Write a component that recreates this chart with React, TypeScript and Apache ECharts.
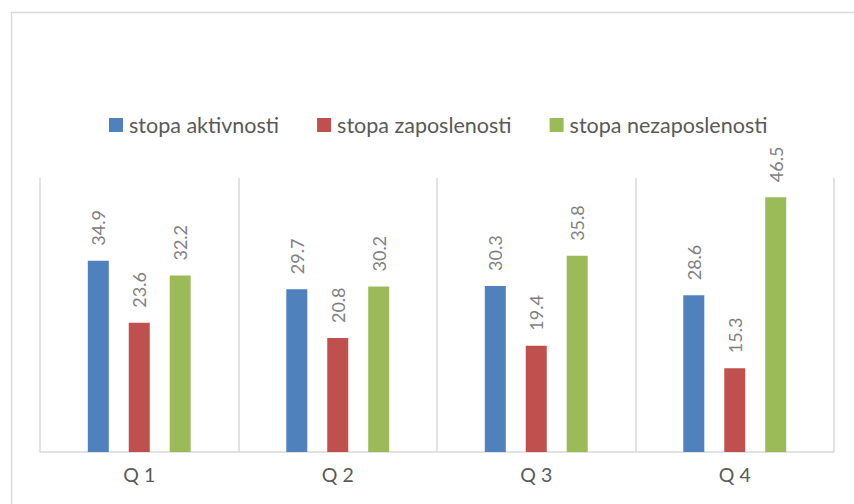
import React, { useEffect, useRef } from "react";
import * as echarts from "echarts";

const categories = ["Q 1", "Q 2", "Q 3", "Q 4"];
const seriesNames = ["stopa aktivnosti", "stopa zaposlenosti", "stopa nezaposlenosti"];
const aktivnosti = [34.9, 29.7, 30.3, 28.6];
const zaposlenosti = [23.6, 20.8, 19.4, 15.3];
const nezaposlenosti = [32.2, 30.2, 35.8, 46.5];
const colors = ["#4F81BD", "#C0504D", "#9BBB59"];

const FONT = "Lato";

export default function App() {
  const ref = useRef<HTMLDivElement>(null);
  useEffect(() => {
    if (!ref.current) return;
    const chart = echarts.init(ref.current, null, { renderer: "svg" });
    const values = [aktivnosti, zaposlenosti, nezaposlenosti];
    chart.setOption({
      animation: false,
      backgroundColor: "#ffffff",
      textStyle: { fontFamily: FONT },
      graphic: [
        {
          type: "rect",
          shape: { x: 11.5, y: 12.5, width: 900, height: 600 },
          style: { fill: "none", stroke: "#D9D9D9", lineWidth: 1.5 },
          silent: true,
        },
      ],
      legend: {
        left: 104,
        top: 109,
        itemWidth: 14,
        itemHeight: 14,
        itemGap: 38,
        icon: "rect",
        textStyle: { fontFamily: FONT, fontSize: 21.5, color: "#595959", padding: [0, 0, 0, 1] },
        data: seriesNames,
      },
      grid: { left: 40, right: 20, top: 178, bottom: 52 },
      xAxis: {
        type: "category",
        data: categories,
        boundaryGap: true,
        axisLine: { show: true, lineStyle: { color: "#D9D9D9", width: 1.5 } },
        axisTick: { show: false },
        splitLine: { show: true, lineStyle: { color: "#D9D9D9", width: 1.5 } },
        axisLabel: { fontFamily: FONT, fontSize: 19.5, color: "#595959", margin: 12 },
      },
      yAxis: {
        type: "value",
        min: 0,
        max: 50,
        interval: 10,
        show: false,
        splitLine: { show: false },
      },
      series: seriesNames.map((name, i) => ({
        name,
        type: "bar",
        data: values[i],
        barWidth: 21,
        barGap: "95%",
        itemStyle: { color: colors[i] },
        label: {
          show: true,
          position: "top",
          rotate: 90,
          align: "left",
          verticalAlign: "middle",
          distance: 15,
          fontFamily: FONT,
          fontSize: 18,
          color: "#7F7F7F",
          formatter: (p: any) => p.value.toFixed(1),
        },
      })),
    });
    return () => chart.dispose();
  }, []);
  return (
    <div
      ref={ref}
      style={{ position: "fixed", left: 0, top: 0, width: 854, height: 504 }}
    />
  );
}
